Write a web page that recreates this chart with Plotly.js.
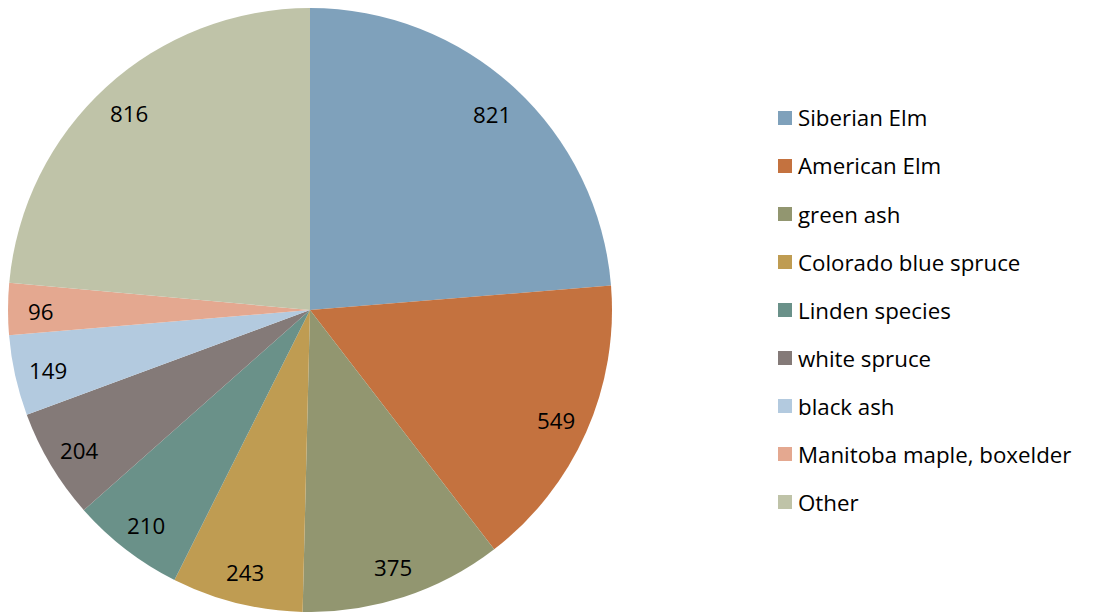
<!DOCTYPE html>
<html>
<head>
<meta charset="utf-8">
<script src="https://cdn.plot.ly/plotly-3.0.1.min.js"></script>
<style>html,body{margin:0;padding:0;background:#fff;}#chart{width:1097px;height:612px;}</style>
</head>
<body>
<div id="chart"></div>
<script>
const categories = ["Siberian Elm","American Elm","green ash","Colorado blue spruce","Linden species","white spruce","black ash","Manitoba maple, boxelder","Other"];
const values = [821,549,375,243,210,204,149,96,816];
const colors = ["#7FA1BB","#C4723F","#929670","#BF9C52","#6A9189","#847A78","#B3CADF","#E4A890","#BFC3A8"];

const W = 1097, H = 612;
const cx = 310, cy = 310, R = 302;
const FONT = "'Open Sans', Lato, sans-serif";
const FS = 22.3;

const trace = {
  type: "pie",
  labels: categories,
  values: values,
  sort: false,
  direction: "clockwise",
  rotation: 0,
  marker: {colors: colors, line: {width: 0}},
  textinfo: "none",
  hoverinfo: "label+value",
  showlegend: false,
  domain: {x: [(cx - R) / W, (cx + R) / W], y: [(H - cy - R) / H, (H - cy + R) / H]}
};

const annotations = [];
const shapes = [];
const total = values.reduce((a, b) => a + b, 0);
let cum = 0;
values.forEach((v, i) => {
  const mid = (cum + v / 2) / total * 2 * Math.PI;
  cum += v;
  const r = R * 0.89;
  const px = cx + r * Math.sin(mid);
  const py = cy - r * Math.cos(mid) + 2;
  annotations.push({
    xref: "paper", yref: "paper", x: px / W, y: 1 - py / H,
    text: String(v), showarrow: false, xanchor: "center", yanchor: "middle",
    font: {family: FONT, size: FS, color: "#000"}
  });
});

// legend
const lx = 778, ly0 = 118, step = 48, sq = 14;
categories.forEach((c, i) => {
  const y = ly0 + i * step;
  shapes.push({
    type: "rect", xref: "paper", yref: "paper",
    x0: lx / W, x1: (lx + sq) / W, y0: 1 - (y + sq / 2) / H, y1: 1 - (y - sq / 2) / H,
    fillcolor: colors[i], line: {width: 0}
  });
  annotations.push({
    xref: "paper", yref: "paper", x: (lx + sq + 4) / W, y: 1 - y / H,
    text: c, showarrow: false, xanchor: "left", yanchor: "middle",
    font: {family: FONT, size: FS, color: "#000"}
  });
});

const layout = {
  width: W, height: H,
  margin: {l: 0, r: 0, t: 0, b: 0},
  paper_bgcolor: "#fff",
  showlegend: false,
  annotations: annotations,
  shapes: shapes
};

Plotly.newPlot("chart", [trace], layout, {displayModeBar: false, staticPlot: true});
</script>
</body>
</html>
